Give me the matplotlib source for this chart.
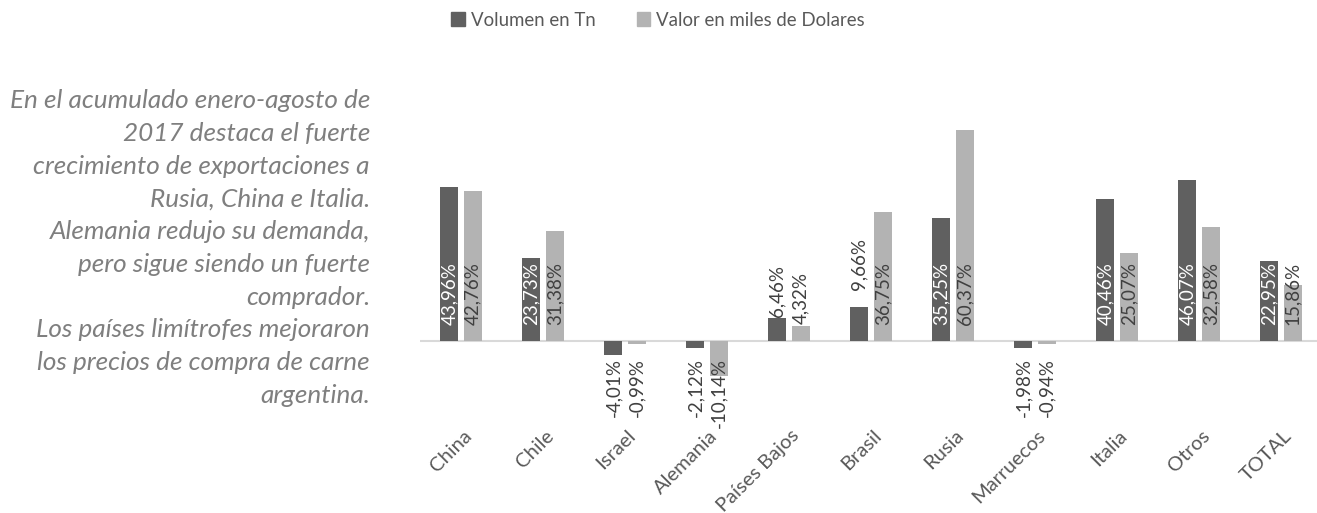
import matplotlib
matplotlib.use("Agg")
import matplotlib.pyplot as plt
import matplotlib.transforms as mtransforms
from matplotlib.patches import Patch
import numpy as np

# ---- data ----
categories = ["China", "Chile", "Israel", "Alemania", "Países Bajos", "Brasil",
              "Rusia", "Marruecos", "Italia", "Otros", "TOTAL"]
volumen = [43.96, 23.73, -4.01, -2.12, 6.46, 9.66, 35.25, -1.98, 40.46, 46.07, 22.95]
valor = [42.76, 31.38, -0.99, -10.14, 4.32, 36.75, 60.37, -0.94, 25.07, 32.58, 15.86]
series_names = ["Volumen en Tn", "Valor en miles de Dolares"]
note_lines = [
    "En el acumulado enero-agosto de",
    "2017 destaca el fuerte",
    "crecimiento de exportaciones a",
    "Rusia, China e Italia.",
    "Alemania redujo su demanda,",
    "pero sigue siendo un fuerte",
    "comprador.",
    "Los países limítrofes mejoraron",
    "los precios de compra de carne",
    "argentina.",
]

# ---- style ----
FONT = "Lato"
dark = "#606060"
light = "#b3b3b3"
txt = "#595959"
lbl_dark = "#404040"
# label placement: 'base' (inside, at base), 'end' (outside end), 'neg' (below axis)
vol_mode = ["base", "base", "neg", "neg", "end", "end", "base", "neg", "base", "base", "base"]
val_mode = ["base", "base", "neg", "neg", "end", "base", "base", "neg", "base", "base", "base"]
vol_extra = [0, 0, 0, 0, 1, 17, 0, 0, 0, 0, 0]
val_extra = [0, 0, 0, 0, 2, 0, 0, 0, 0, 0, 0]

W, H = 1317, 513
fig = plt.figure(figsize=(W / 100, H / 100), dpi=100)
ax_left, ax_right = 420, 1322
ax_top, ax_bot = 96, 411
ax = fig.add_axes([ax_left / W, (H - ax_bot) / H, (ax_right - ax_left) / W, (ax_bot - ax_top) / H])

x = np.arange(len(categories))
bw = 0.223
off = 0.143
ax.bar(x - off, volumen, bw, color=dark, zorder=2)
ax.bar(x + off, valor, bw, color=light, zorder=2)
ax.axhline(0, color="#d9d9d9", lw=1.5, zorder=1)

ax.set_xlim(-0.5, len(categories) - 0.5)
ax.set_ylim(-20, 70)
for s in ax.spines.values():
    s.set_visible(False)
ax.set_yticks([])
ax.set_xticks([])

def put_label(xi, v, mode, extra, bar_is_dark):
    s = f"{v:.2f}".replace(".", ",") + "%"
    if mode == "base":
        y = 0
        dy = 16 + extra
        va = "bottom"
        col = "white" if bar_is_dark else lbl_dark
    elif mode == "end":
        y = v
        dy = extra
        va = "bottom"
        col = lbl_dark
    else:
        y = 0
        dy = -17 + extra
        va = "top"
        col = lbl_dark
    tr = ax.transData + mtransforms.ScaledTranslation(0, dy / 100, fig.dpi_scale_trans)
    ax.text(xi, y, s, rotation=90, ha="center", va=va, color=col,
            fontsize=13.5, family=FONT, transform=tr, zorder=3)

for i in range(len(categories)):
    put_label(x[i] - off, volumen[i], vol_mode[i], vol_extra[i], True)
    put_label(x[i] + off, valor[i], val_mode[i], val_extra[i], False)

# category labels
cat_tr = mtransforms.blended_transform_factory(ax.transData, fig.transFigure)
for i, c in enumerate(categories):
    ax.text(x[i] + 0.02, (H - 427) / H, c, rotation=45, ha="right", va="top",
            rotation_mode="anchor", color=txt, fontsize=14.5, family=FONT,
            transform=cat_tr)

# legend
handles = [Patch(color=dark), Patch(color=light)]
leg = fig.legend(handles, series_names, loc="center", bbox_to_anchor=(658 / W, (H - 20) / H),
                 ncol=2, frameon=False, handlelength=0.75, handleheight=0.75,
                 handletextpad=0.3, columnspacing=2.2, prop={"family": FONT, "size": 13.4})
for t in leg.get_texts():
    t.set_color(txt)

# note text
for k, line in enumerate(note_lines):
    fig.text(370 / W, (H - (101 + k * 32.7)) / H, line, ha="right", va="center",
             style="italic", color="#7f7f7f", fontsize=18.8, family=FONT)

fig.savefig("out.png", dpi=100)
